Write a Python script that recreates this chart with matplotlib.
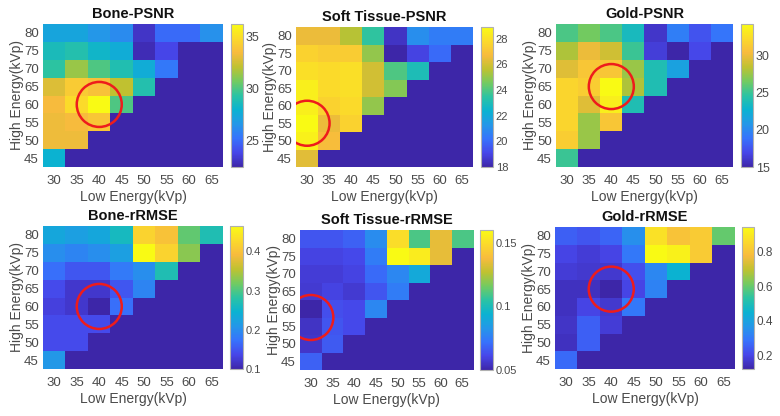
import numpy as np
import matplotlib
matplotlib.use('Agg')
import matplotlib.pyplot as plt
from matplotlib.colors import LinearSegmentedColormap

plt.rcParams['font.family'] = ['Liberation Sans', 'DejaVu Sans']

low_energy = [30, 35, 40, 45, 50, 55, 60, 65]
high_energy = [45, 50, 55, 60, 65, 70, 75, 80]
n = np.nan

# rows: high energy 45 -> 80, columns: low energy 30 -> 65
bone_psnr = [
    [27.9, n, n, n, n, n, n, n],
    [33.2, 33.2, n, n, n, n, n, n],
    [33.2, 33.4, 33.9, n, n, n, n, n],
    [33.4, 34.8, 36.2, 30.0, n, n, n, n],
    [32.8, 34.1, 33.7, 32.1, 29.0, n, n, n],
    [29.3, 31.4, 30.0, 28.9, 27.6, 25.4, n, n],
    [28.6, 29.0, 28.2, 27.6, 22.7, 23.8, 22.4, n],
    [27.2, 27.2, 26.5, 26.1, 23.1, 24.9, 24.9, 26.3],
]
soft_psnr = [
    [26.3, n, n, n, n, n, n, n],
    [28.6, 26.8, n, n, n, n, n, n],
    [28.9, 26.5, 27.5, n, n, n, n, n],
    [28.5, 27.5, 27.8, 25.0, n, n, n, n],
    [28.5, 27.8, 28.0, 26.0, 24.8, n, n, n],
    [28.0, 27.8, 28.0, 26.0, 24.0, 23.0, n, n],
    [27.5, 27.3, 27.3, 25.0, 18.0, 19.0, 20.0, n],
    [26.5, 26.5, 25.5, 23.5, 18.5, 21.0, 20.5, 20.5],
]
gold_psnr = [
    [25.0, n, n, n, n, n, n, n],
    [31.5, 27.5, n, n, n, n, n, n],
    [32.0, 27.5, 31.0, n, n, n, n, n],
    [32.0, 29.5, 33.5, 24.0, n, n, n, n],
    [32.0, 31.5, 34.2, 28.0, 24.0, n, n, n],
    [29.5, 31.0, 31.0, 27.5, 24.0, 21.5, n, n],
    [28.0, 30.0, 29.0, 25.0, 16.5, 15.0, 17.0, n],
    [25.5, 26.5, 25.5, 23.5, 16.0, 19.5, 17.5, 19.0],
]
bone_rrmse = [
    [0.21, n, n, n, n, n, n, n],
    [0.14, 0.14, n, n, n, n, n, n],
    [0.14, 0.14, 0.14, n, n, n, n, n],
    [0.13, 0.12, 0.10, 0.17, n, n, n, n],
    [0.14, 0.12, 0.12, 0.15, 0.19, n, n, n],
    [0.17, 0.15, 0.15, 0.18, 0.20, 0.27, n, n],
    [0.20, 0.19, 0.20, 0.22, 0.465, 0.42, 0.33, n],
    [0.23, 0.22, 0.23, 0.26, 0.42, 0.40, 0.31, 0.27],
]
soft_rrmse = [
    [0.068, n, n, n, n, n, n, n],
    [0.056, 0.066, n, n, n, n, n, n],
    [0.055, 0.065, 0.062, n, n, n, n, n],
    [0.050, 0.063, 0.062, 0.078, n, n, n, n],
    [0.057, 0.060, 0.057, 0.065, 0.075, n, n, n],
    [0.058, 0.058, 0.060, 0.070, 0.078, 0.090, n, n],
    [0.060, 0.060, 0.062, 0.075, 0.160, 0.155, 0.135, n],
    [0.065, 0.065, 0.068, 0.080, 0.150, 0.110, 0.135, 0.110],
]
gold_rrmse = [
    [0.27, n, n, n, n, n, n, n],
    [0.15, 0.25, n, n, n, n, n, n],
    [0.16, 0.25, 0.18, n, n, n, n, n],
    [0.15, 0.20, 0.17, 0.30, n, n, n, n],
    [0.15, 0.15, 0.12, 0.20, 0.32, n, n, n],
    [0.18, 0.17, 0.17, 0.22, 0.33, 0.45, n, n],
    [0.20, 0.18, 0.20, 0.30, 0.945, 0.92, 0.82, n],
    [0.25, 0.23, 0.26, 0.35, 0.88, 0.80, 0.82, 0.60],
]

titles = ['Bone-PSNR', 'Soft Tissue-PSNR', 'Gold-PSNR',
          'Bone-rRMSE', 'Soft Tissue-rRMSE', 'Gold-rRMSE']
datasets = [bone_psnr, soft_psnr, gold_psnr, bone_rrmse, soft_rrmse, gold_rrmse]
best_low = [40, 30, 40, 40, 30, 40]
best_high = [60, 55, 65, 60, 57.5, 65]
cbar_ticks = [[25, 30, 35], [18, 20, 22, 24, 26, 28], [15, 20, 25, 30],
              [0.1, 0.2, 0.3, 0.4], [0.05, 0.1, 0.15], [0.2, 0.4, 0.6, 0.8]]
cbar_labels = [['25', '30', '35'], ['18', '20', '22', '24', '26', '28'],
               ['15', '20', '25', '30'], ['0.1', '0.2', '0.3', '0.4'],
               ['0.05', '0.1', '0.15'], ['0.2', '0.4', '0.6', '0.8']]
cbar_fs = [9, 8, 9, 8, 8, 8.5]

parula_pts = [
    (0.00, (0.2422, 0.1504, 0.6603)),
    (0.10, (0.2780, 0.2750, 0.9150)),
    (0.20, (0.2150, 0.4500, 0.9900)),
    (0.30, (0.1400, 0.5950, 0.9100)),
    (0.40, (0.0450, 0.7000, 0.8200)),
    (0.50, (0.1700, 0.7650, 0.6400)),
    (0.60, (0.4500, 0.7950, 0.3800)),
    (0.70, (0.7500, 0.7600, 0.1900)),
    (0.80, (0.9700, 0.7350, 0.2400)),
    (0.90, (0.9850, 0.8550, 0.1700)),
    (1.00, (0.9769, 0.9839, 0.0805)),
]
parula = LinearSegmentedColormap.from_list('parula', parula_pts, N=256)
parula.set_bad(parula(0.0))

W, H = 780, 416
fig = plt.figure(figsize=(W / 100, H / 100), dpi=100)

# pixel boxes: (left, top, right, bottom)
ax_boxes = [(43, 24, 223, 167), (296, 27, 473, 167), (556, 24, 733, 167),
            (43, 226, 223, 369), (300, 230, 473, 370), (555, 227, 735, 369)]
cb_boxes = [(231, 24, 243, 167), (481, 27, 493, 167), (741, 24, 753, 167),
            (230, 226, 243, 369), (480, 230, 493, 370), (742, 227, 754, 369)]


def rect(b):
    l, t, r, bt = b
    return [l / W, 1 - bt / H, (r - l) / W, (bt - t) / H]


tick_color = '#4a4a4a'
for i in range(6):
    ax = fig.add_axes(rect(ax_boxes[i]))
    data = np.ma.masked_invalid(np.array(datasets[i], dtype=float))
    im = ax.imshow(data, cmap=parula, origin='lower', aspect='auto',
                   extent=[low_energy[0] - 2.5, low_energy[-1] + 2.5,
                           high_energy[0] - 2.5, high_energy[-1] + 2.5],
                   interpolation='nearest')
    ax.scatter([best_low[i]], [best_high[i]], s=1050, facecolors='none',
               edgecolors='#ee1c1c', linewidths=1.8, zorder=5)
    ax.set_xticks(low_energy)
    ax.set_yticks(high_energy)
    ax.tick_params(axis='x', length=0, labelsize=9.5, labelcolor=tick_color, pad=6)
    ax.tick_params(axis='y', length=0, labelsize=9.5, labelcolor=tick_color, pad=3)
    for s in ax.spines.values():
        s.set_visible(False)
    ax.set_xlabel('Low Energy(kVp)', fontsize=10, color='#4a4a4a', labelpad=2)
    ax.set_ylabel('High Energy(kVp)', fontsize=10, color='#4a4a4a', labelpad=0)
    ax.set_title(titles[i], fontsize=10.5, fontweight='bold', color='#111111', pad=4)

    cax = fig.add_axes(rect(cb_boxes[i]))
    cb = fig.colorbar(im, cax=cax, ticks=cbar_ticks[i])
    cb.ax.set_yticklabels(cbar_labels[i])
    cb.ax.tick_params(length=0, labelsize=cbar_fs[i], labelcolor=tick_color, pad=2)
    cb.outline.set_edgecolor('#b0b0b0')
    cb.outline.set_linewidth(0.8)

fig.savefig('out.png', dpi=100)
